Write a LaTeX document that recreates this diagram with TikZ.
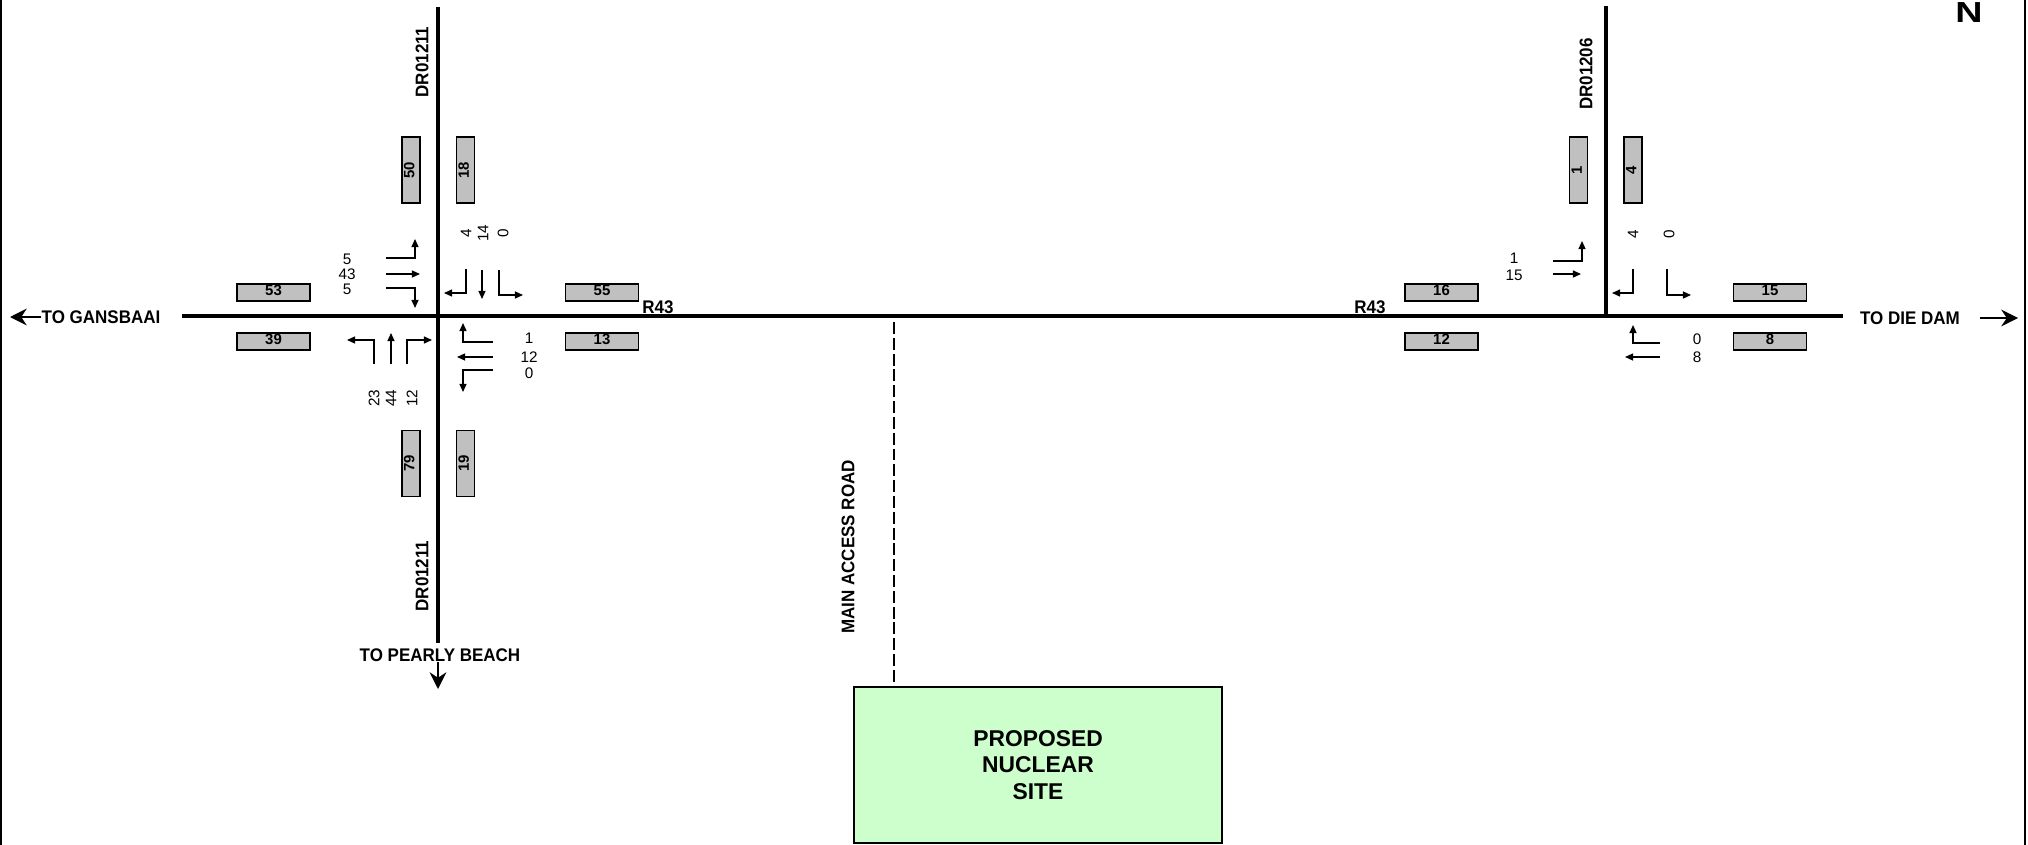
\documentclass[tikz,border=0pt]{standalone}
\usepackage{fontspec}
\setmainfont{Liberation Sans}
\usetikzlibrary{arrows.meta}
\definecolor{countgrey}{HTML}{C0C0C0}
\definecolor{sitegreen}{HTML}{CCFFCC}

\begin{document}
\begin{tikzpicture}[x=0.02cm, y=-0.02cm,
    road/.style={line width=2.4pt},
    access/.style={line width=1.6pt, dash pattern=on 6.8pt off 2.2pt},
    cnt/.style={draw, fill=countgrey, line width=1pt, minimum width=1.46cm,
                minimum height=0.34cm, inner sep=0pt, text depth=2pt,
                font=\bfseries\fontsize{8.5}{8.5}\selectfont},
    vcnt/.style={cnt, rotate=90, minimum width=1.32cm, minimum height=0.36cm},
    mv/.style={-{Triangle[length=4.6pt,width=4pt]}, line width=0.75pt},
    num/.style={inner sep=0pt, font=\fontsize{8.7}{8.7}\selectfont},
    vnum/.style={rotate=90, num},
    lbl/.style={inner sep=0pt, xscale=0.93, font=\bfseries\fontsize{10.4}{10.4}\selectfont},
    vlbl/.style={rotate=90, lbl},
    dest/.style={-{Stealth[length=9.5pt,width=9.5pt]}, line width=1.3pt},
    site/.style={draw, fill=sitegreen, line width=1.1pt, minimum width=7.36cm,
                 minimum height=3.12cm, align=center,
                 font=\bfseries\fontsize{13}{15}\selectfont}]
    \useasboundingbox (0,0) rectangle (2028,845);
    % frame
    \draw[line width=1.1pt] (1,0) -- (1,845);
    \draw[line width=1.1pt] (2025,0) -- (2025,845);

    % roads
    \coordinate (wend) at (182,316);
    \coordinate (eend) at (1843,316);
    \coordinate (j1)   at (438,316);
    \coordinate (j2)   at (1606,316);
    \coordinate (ntop) at (438,7);
    \coordinate (sbot) at (438,643);
    \coordinate (etop) at (1606,6);
    \draw[road] (wend) -- (eend);
    \draw[road] (ntop) -- (sbot);
    \draw[road] (etop) -- (j2);

    \node[site] (site) at (1038,765) {PROPOSED\\NUCLEAR\\SITE};
    \coordinate (acc) at (894,322);
    \draw[access] (acc) -- (acc |- site.north);
    \node[vlbl] (accl) at (848,547) {MAIN ACCESS ROAD};

    % road names and destinations
    \node[lbl] (r43w) at (658,307)  {R43};
    \node[lbl] (r43e) at (1370,307) {R43};
    \node[vlbl] (drn) at (422,62)   {DR01211};
    \node[vlbl] (drs) at (422,576)  {DR01211};
    \node[vlbl] (dre) at (1586,74)  {DR01206};
    \node[lbl] (gans)  at (101,317)  {TO GANSBAAI};
    \node[lbl] (dam)   at (1910,318) {TO DIE DAM};
    \node[lbl] (pearl) at (440,655)  {TO PEARLY BEACH};
    \coordinate (gansarr)  at (10,317);
    \coordinate (damtail)  at (1980,318);
    \coordinate (damarr)   at (2018,318);
    \coordinate (pearltl)  at (438,662);
    \coordinate (pearlarr) at (438,689);
    \draw[dest] (gans.west) -- (gansarr);
    \draw[dest] (damtail) -- (damarr);
    \draw[dest] (pearltl) -- (pearlarr);
    \node[inner sep=0pt, xscale=1.3, font=\bfseries\fontsize{16.5}{16.5}\selectfont] (north) at (1969,13) {N};

    % counts, west junction
    \node[cnt]  (c53) at (273.5,292.5) {53};
    \node[cnt]  (c39) at (273.5,341.5) {39};
    \node[cnt]  (c55) at (602,292.5)   {55};
    \node[cnt]  (c13) at (602,341.5)   {13};
    \node[vcnt] (c50) at (411,170)     {50};
    \node[vcnt] (c18) at (465.5,170)   {18};
    \node[vcnt] (c79) at (411,463.5)   {79};
    \node[vcnt] (c19) at (465.5,463.5) {19};

    % counts, east junction
    \node[cnt]  (c16) at (1441.5,292.5) {16};
    \node[cnt]  (c12) at (1441.5,341.5) {12};
    \node[cnt]  (c15) at (1770,292.5)   {15};
    \node[cnt]  (c8)  at (1770,341.5)   {8};
    \node[vcnt] (c1)  at (1578.5,170)   {1};
    \node[vcnt] (c4)  at (1633,170)     {4};

    % turning movements, west junction
    \draw[mv] (386,258) -- (415,258) -- (415,239);
    \draw[mv] (386,274) -- (420,274);
    \draw[mv] (386,288) -- (415,288) -- (415,308);
    \node[num] (nwl) at (347,259) {5};
    \node[num] (nwt) at (347,274) {43};
    \node[num] (nwr) at (347,289) {5};

    \draw[mv] (466,269) -- (466,293) -- (444,293);
    \draw[mv] (482,270) -- (482,299);
    \draw[mv] (499,270) -- (499,295) -- (523,295);
    \node[vnum] (nel) at (466,233) {4};
    \node[vnum] (net) at (483,233) {14};
    \node[vnum] (ner) at (503,233) {0};

    \draw[mv] (374,364) -- (374,340) -- (347,340);
    \draw[mv] (391,364) -- (391,333);
    \draw[mv] (407,364) -- (407,340) -- (432,340);
    \node[vnum] (swl) at (374,398) {23};
    \node[vnum] (swt) at (391,398) {44};
    \node[vnum] (swr) at (412,398) {12};

    \draw[mv] (493,342) -- (463,342) -- (463,323);
    \draw[mv] (493,357) -- (457,357);
    \draw[mv] (493,370) -- (463,370) -- (463,392);
    \node[num] (sel) at (529,338) {1};
    \node[num] (set) at (529,357) {12};
    \node[num] (ser) at (529,373) {0};

    % turning movements, east junction
    \draw[mv] (1553,261) -- (1582,261) -- (1582,241);
    \draw[mv] (1553,274) -- (1581,274);
    \node[num] (enl) at (1514,258) {1};
    \node[num] (ent) at (1514,275) {15};

    \draw[mv] (1633,269) -- (1633,293) -- (1612,293);
    \draw[mv] (1667,269) -- (1667,295) -- (1691,295);
    \node[vnum] (eal) at (1633,234) {4};
    \node[vnum] (ear) at (1669,234) {0};

    \draw[mv] (1660,343) -- (1633,343) -- (1633,325);
    \draw[mv] (1660,357) -- (1625,357);
    \node[num] (esl) at (1697,339) {0};
    \node[num] (est) at (1697,357) {8};
\end{tikzpicture}
\end{document}
